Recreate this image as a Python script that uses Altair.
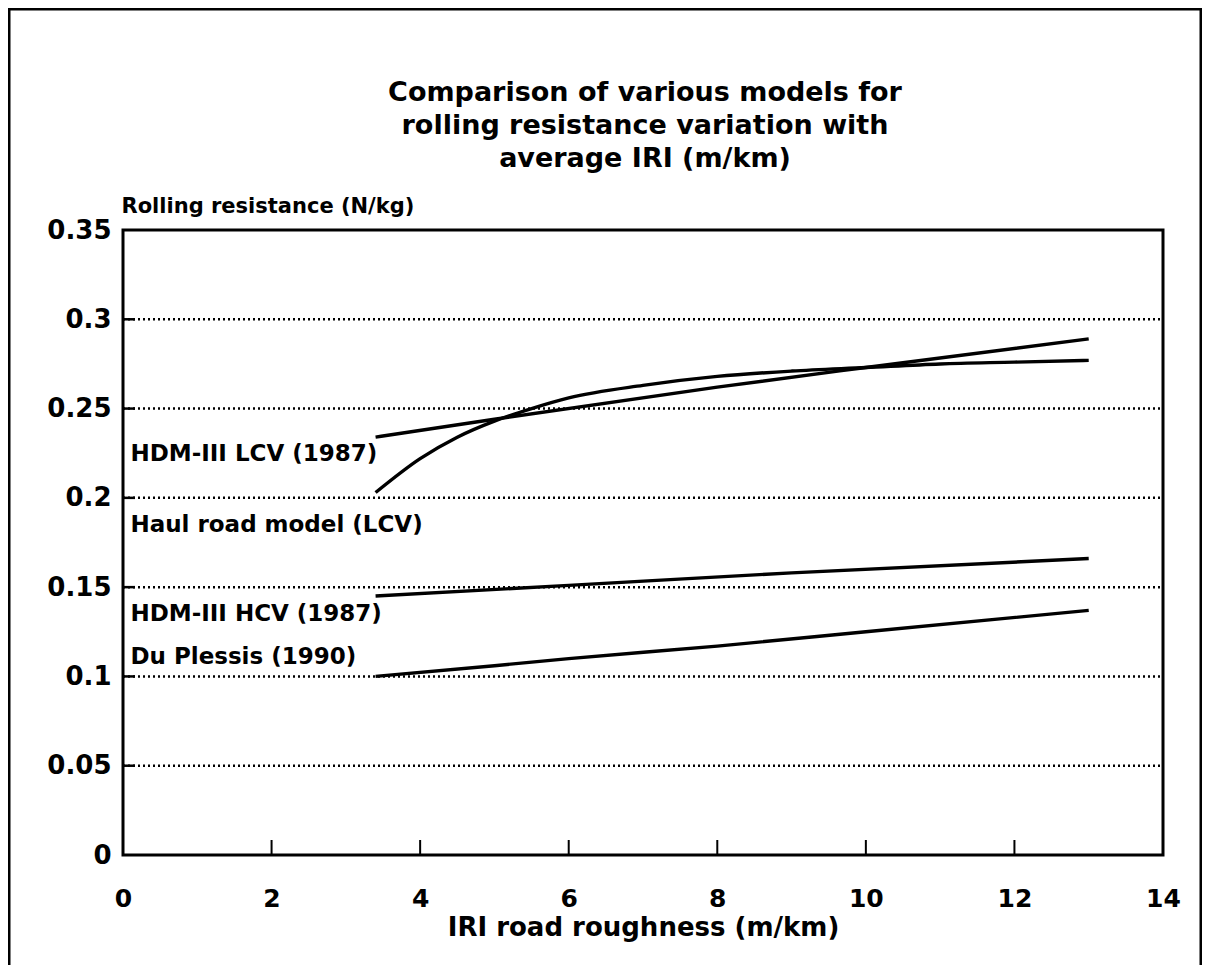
import altair as alt
import pandas as pd

# ---- data ----
haul_x = [3.4, 4.0, 4.5, 5.0, 5.5, 6.0, 7.0, 8.0, 9.0, 10.0, 11.0, 12.0, 13.0]
haul_y = [0.203, 0.222, 0.234, 0.243, 0.250, 0.256, 0.263, 0.268, 0.271, 0.273, 0.275, 0.276, 0.277]

lcv_x = [3.4, 5.0, 8.0, 10.0, 13.0]
lcv_y = [0.234, 0.244, 0.262, 0.273, 0.289]

hcv_x = [3.4, 6.0, 9.0, 13.0]
hcv_y = [0.145, 0.151, 0.158, 0.166]

dup_x = [3.4, 5.0, 6.0, 8.0, 10.0, 13.0]
dup_y = [0.100, 0.106, 0.110, 0.117, 0.125, 0.137]

label_text = ["HDM-III LCV (1987)", "Haul road model (LCV)", "HDM-III HCV (1987)", "Du Plessis (1990)"]
label_x = [0.1, 0.1, 0.1, 0.1]
label_y = [0.2245, 0.185, 0.135, 0.111]

x_tick_values = [0, 2, 4, 6, 8, 10, 12, 14]
inner_x_ticks = [2, 4, 6, 8, 10, 12]
y_tick_values = [0, 0.05, 0.1, 0.15, 0.2, 0.25, 0.3, 0.35]
inner_y_ticks = [0.05, 0.1, 0.15, 0.2, 0.25, 0.3]

title_lines = ["Comparison of various models for",
               "rolling resistance variation with",
               "average IRI (m/km)"]

FONT = "DejaVu Sans"
W, H = 1040, 625

rows = []
for name, xs, ys in [("Haul road model (LCV)", haul_x, haul_y),
                     ("HDM-III LCV (1987)", lcv_x, lcv_y),
                     ("HDM-III HCV (1987)", hcv_x, hcv_y),
                     ("Du Plessis (1990)", dup_x, dup_y)]:
    for a, b in zip(xs, ys):
        rows.append({"series": name, "x": a, "y": b})
df = pd.DataFrame(rows)
labels_df = pd.DataFrame({"text": label_text, "x": label_x, "y": label_y})
xt_df = pd.DataFrame({"x": inner_x_ticks})
yt_df = pd.DataFrame({"y": inner_y_ticks})

xscale = alt.Scale(domain=[0, 14], nice=False, zero=False)
yscale = alt.Scale(domain=[0, 0.35], nice=False)

x_axis = alt.Axis(values=x_tick_values, format="~g", title="IRI road roughness (m/km)",
                  grid=False, ticks=False, domain=False,
                  labelFont=FONT, labelFontWeight="bold", labelFontSize=25,
                  labelColor="black", labelPadding=31, labelFlush=False,
                  titleFont=FONT, titleFontWeight="bold", titleFontSize=26,
                  titleColor="black", titlePadding=3)
y_axis = alt.Axis(values=y_tick_values, format="~g", title="Rolling resistance (N/kg)",
                  grid=False, ticks=False, domain=False,
                  labelFont=FONT, labelFontWeight="bold", labelFontSize=26,
                  labelColor="black", labelPadding=12, labelFlush=False,
                  titleFont=FONT, titleFontWeight="bold", titleFontSize=21,
                  titleColor="black", titleAngle=0, titleAlign="left",
                  titleBaseline="bottom", titleX=-2, titleY=-14)

grid = alt.Chart(yt_df).mark_rule(color="black", strokeWidth=2.5, strokeDash=[2, 3]).encode(
    y=alt.Y("y:Q", scale=yscale, axis=y_axis),
    x=alt.value(0),
    x2=alt.value(W),
)

lines = alt.Chart(df).mark_line(color="black", strokeWidth=3.4, interpolate="monotone").encode(
    x=alt.X("x:Q", scale=xscale, axis=x_axis),
    y=alt.Y("y:Q", scale=yscale),
    detail="series:N",
)

texts = alt.Chart(labels_df).mark_text(align="left", baseline="middle", font=FONT,
                                       fontWeight="bold", fontSize=23, color="black").encode(
    x=alt.X("x:Q", scale=xscale),
    y=alt.Y("y:Q", scale=yscale),
    text="text:N",
)

xticks = alt.Chart(xt_df).mark_rule(color="black", strokeWidth=2).encode(
    x=alt.X("x:Q", scale=xscale),
    y=alt.value(H),
    y2=alt.value(H - 15),
)

yticks = alt.Chart(yt_df).mark_rule(color="black", strokeWidth=2.5).encode(
    y=alt.Y("y:Q", scale=yscale),
    x=alt.value(0),
    x2=alt.value(12),
)

outer = alt.Chart(pd.DataFrame({"a": [0]})).mark_rect(fill=None, stroke="black", strokeWidth=3).encode(
    x=alt.value(-114), x2=alt.value(1078), y=alt.value(-221), y2=alt.value(800),
)

title = alt.Chart(pd.DataFrame({"a": [0]})).mark_text(
    text=title_lines, font=FONT, fontWeight="bold", fontSize=27, lineHeight=33,
    align="center", baseline="top", color="black",
).encode(x=alt.value(W / 2 + 2), y=alt.value(-150))

chart = alt.layer(outer, grid, lines, xticks, yticks, texts, title).properties(
    width=W, height=H,
    padding={"left": 115, "top": 222, "right": 39, "bottom": 110},
    autosize=alt.AutoSizeParams(type="none"),
).configure(background="white", view=alt.ViewConfig(stroke="black", strokeWidth=3))

chart.save("out.html", embed_options={"renderer": "svg", "actions": False})
